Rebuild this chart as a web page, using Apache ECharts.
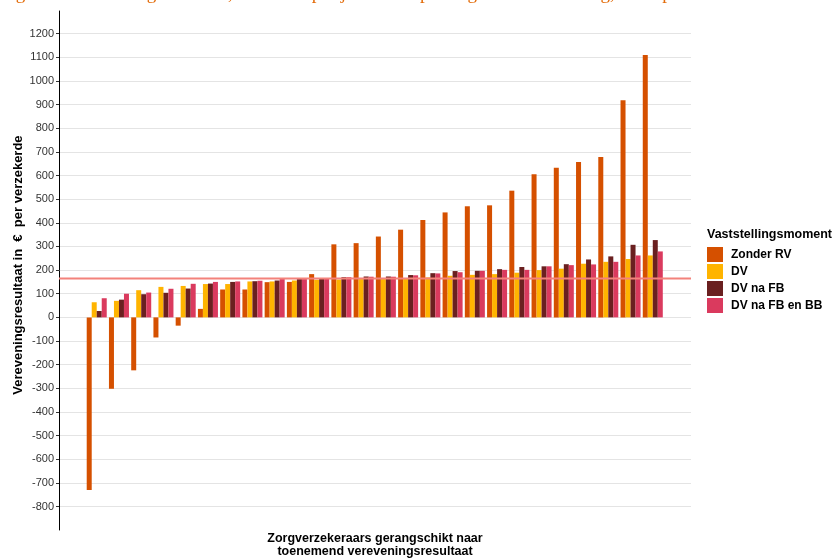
<!DOCTYPE html>
<html>
<head>
<meta charset="utf-8">
<script src="https://cdn.jsdelivr.net/npm/echarts@6/dist/echarts.min.js"></script>
<style>
  html, body { margin: 0; padding: 0; background: #fff; }
  #chart { width: 839px; height: 560px; }
</style>
</head>
<body>
<div id="chart"></div>
<script>
  // zorgverzekeraars, gerangschikt (geen labels op de as)
  var categories = ['1', '2', '3', '4', '5', '6', '7', '8', '9', '10', '11', '12', '13',
    '14', '15', '16', '17', '18', '19', '20', '21', '22', '23', '24', '25', '26']
  var zonderRV = [-730, -302, -224, -85, -35, 36, 118, 118, 149, 150, 183, 309, 314,
    342, 371, 412, 444, 470, 474, 536, 605, 633, 657, 678, 919, 1110]
  var dv = [64, 70, 115, 129, 133, 141, 141, 152, 152, 156, 159, 160, 162,
    162, 165, 169, 176, 180, 183, 189, 200, 206, 227, 235, 247, 262]
  var dvNaFB = [27, 75, 98, 104, 122, 143, 150, 153, 156, 162, 163, 170, 173,
    173, 179, 187, 196, 197, 204, 213, 216, 225, 245, 258, 307, 327]
  var dvNaFBenBB = [81, 100, 105, 121, 142, 150, 152, 155, 162, 162, 163, 170, 172,
    172, 178, 186, 191, 197, 201, 201, 216, 221, 224, 235, 262, 279]
  var gemiddelde = 164
  var yTicks = { min: -800, max: 1200, interval: 100 }

  var seriesNames = ['Zonder RV', 'DV', 'DV na FB', 'DV na FB en BB']
  var seriesData = [zonderRV, dv, dvNaFB, dvNaFBenBB]
  var colors = ['#D55000', '#FFB400', '#6A2020', '#DA3A5E']

  var myChart = echarts.init(document.getElementById('chart'))
  var font = 'Liberation Sans, Arial, sans-serif'

  var option = {
    animation: false,
    textStyle: { fontFamily: font },
    title: [{
      // afgesneden bijschrift boven de figuur
      text: 'Figuur 2 Vereveningsresultaat, berekend per jaar na toepassing van herverdeling, 2019 per verzekerde.',
      left: 0,
      top: -15,
      padding: 0,
      textStyle: { fontFamily: 'Liberation Serif, serif', fontSize: 19, fontWeight: 'normal', color: '#E36C0A' }
    }, {
      text: 'Vaststellingsmoment',
      left: 707,
      top: 228,
      padding: 0,
      textStyle: { fontSize: 12.5, fontWeight: 'bold', color: '#000' }
    }, {
      text: 'Zorgverzekeraars gerangschikt naar\ntoenemend vereveningsresultaat',
      left: 375,
      top: 532,
      padding: 0,
      textAlign: 'center',
      textStyle: { fontSize: 12.5, fontWeight: 'bold', color: '#000', lineHeight: 13 }
    }],
    legend: {
      orient: 'vertical',
      left: 707,
      top: 247,
      padding: 0,
      itemWidth: 16,
      itemHeight: 15,
      itemGap: 2,
      icon: 'rect',
      data: seriesNames,
      textStyle: { fontSize: 12, fontWeight: 'bold', color: '#000', padding: [0, 0, 0, 3] }
    },
    grid: [
      // as + rasterlijnen
      { left: 59, right: 148, top: 33.7, bottom: 53.5 },
      // staven
      { left: 85.6, right: 175.1, top: 33.7, bottom: 53.5 },
      // zwarte aslijn
      { left: 59, right: 148, top: 11, bottom: 30 }
    ],
    xAxis: [
      { gridIndex: 0, type: 'value', min: 0, max: 1, show: false },
      { gridIndex: 1, type: 'category', data: categories, show: false },
      { gridIndex: 2, type: 'category', data: categories, show: false }
    ],
    yAxis: [{
      gridIndex: 0,
      type: 'value',
      min: yTicks.min,
      max: yTicks.max,
      interval: yTicks.interval,
      name: 'Vereveningsresultaat in  €  per verzekerde',
      nameLocation: 'middle',
      nameGap: 34,
      nameMoveOverlap: false,
      nameTextStyle: { fontSize: 13, fontWeight: 'bold', color: '#000', padding: [0, 0, 0, 10] },
      axisLine: { show: false },
      axisTick: { show: true, length: 3, lineStyle: { color: '#333' } },
      axisLabel: { color: '#333', fontSize: 11, margin: 5, formatter: function (v) { return String(v) } },
      splitLine: { lineStyle: { color: '#E4E4E4', width: 1.2 } }
    }, {
      gridIndex: 1,
      type: 'value',
      min: yTicks.min,
      max: yTicks.max,
      interval: yTicks.interval,
      show: false
    }, {
      gridIndex: 2,
      type: 'value',
      axisLine: { show: true, lineStyle: { color: '#000', width: 1 } },
      axisTick: { show: false },
      axisLabel: { show: false },
      splitLine: { show: false }
    }],
    series: []
  }

  seriesData.forEach(function (values, i) {
    option.series.push({
      name: seriesNames[i],
      type: 'bar',
      xAxisIndex: 1,
      yAxisIndex: 1,
      data: values,
      barGap: 0,
      barCategoryGap: '10%',
      itemStyle: { color: colors[i] }
    })
  })

  // gemiddeld resultaat (rode lijn)
  option.series.push({
    name: 'gemiddelde',
    type: 'line',
    xAxisIndex: 0,
    yAxisIndex: 0,
    data: [[0, gemiddelde], [1, gemiddelde]],
    symbol: 'none',
    z: 5,
    lineStyle: { color: '#F3827B', width: 2 }
  })

  myChart.setOption(option)
</script>
</body>
</html>
